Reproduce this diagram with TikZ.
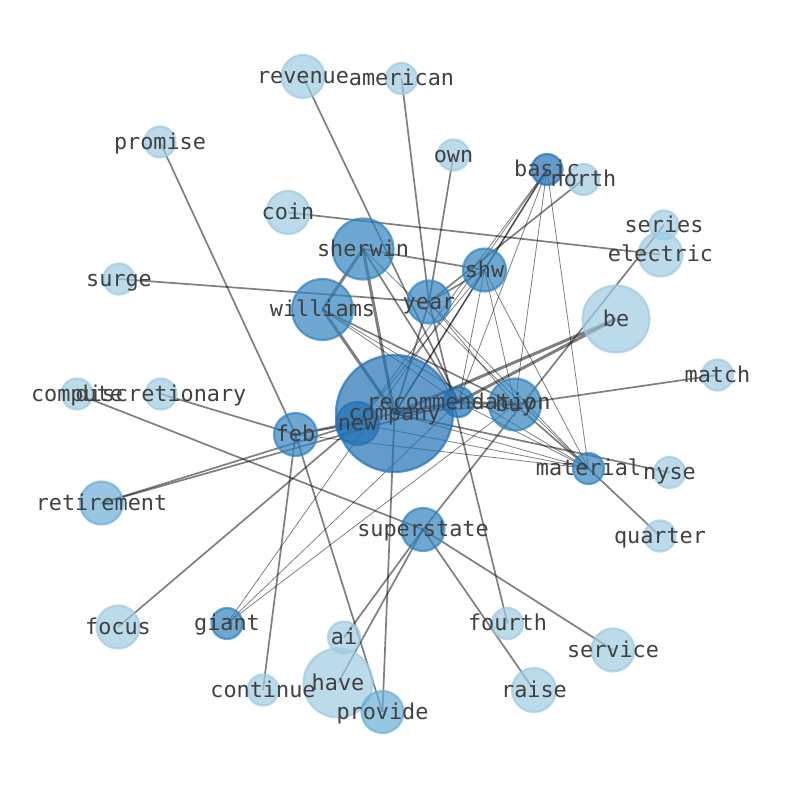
\documentclass[tikz,border=0pt]{standalone}
\usepackage{fontspec}
\setmonofont{DejaVu Sans Mono}
\pgfdeclarelayer{edges}
\pgfdeclarelayer{labels}
\pgfsetlayers{edges,main,labels}
\definecolor{bluelight}{HTML}{9ECAE1}
\definecolor{bluemid}{HTML}{6BAED6}
\definecolor{bluemed}{HTML}{3182BD}
\definecolor{bluedark}{HTML}{2171B5}
\tikzset{
  blob/.style={circle,inner sep=0pt,line width=2.2bp,opacity=0.7},
  lt/.style={blob,fill=bluelight,draw=bluelight},
  lm/.style={blob,fill=bluemid,draw=bluemid},
  md/.style={blob,fill=bluemed,draw=bluemed},
  dk/.style={blob,fill=bluedark,draw=bluedark},
  word/.style={inner sep=0pt,yshift=-5bp,text=black!75,font=\ttfamily\fontsize{21.9}{26}\selectfont,text height=0.74em,text depth=0.24em},
  link/.style={draw=black,draw opacity=0.5,line width=1.7bp},
  thinlink/.style={link,line width=0.8bp},
  thicklink/.style={link,line width=3bp},
}
\begin{document}
\begin{tikzpicture}[line join=bevel]
\useasboundingbox (0bp,0bp) rectangle (794bp,790bp);
%%
\node (company) at (394.5bp,376.5bp) [dk,minimum size=117bp] {};
\node (revenue) at (303bp,713.5bp) [lt,minimum size=43bp] {};
\node (american) at (401.5bp,711.5bp) [lt,minimum size=31bp] {};
\node (promise) at (160bp,648bp) [lt,minimum size=31bp] {};
\node (own) at (453.5bp,635bp) [lt,minimum size=31bp] {};
\node (basic) at (547bp,620.5bp) [dk,minimum size=31bp] {};
\node (north) at (583.5bp,610.5bp) [lt,minimum size=31bp] {};
\node (coin) at (288bp,577.5bp) [lt,minimum size=43bp] {};
\node (series) at (664bp,565bp) [lt,minimum size=29bp] {};
\node (electric) at (660.5bp,535.5bp) [lt,minimum size=44bp] {};
\node (sherwin) at (363bp,541bp) [md,minimum size=61bp] {};
\node (shw) at (484.5bp,520bp) [md,minimum size=43bp] {};
\node (surge) at (119bp,511bp) [lt,minimum size=31bp] {};
\node (williams) at (322.5bp,480.5bp) [md,minimum size=61bp] {};
\node (year) at (429bp,488bp) [md,minimum size=43bp] {};
\node (be) at (616bp,471bp) [lt,minimum size=67bp] {};
\node (match) at (717.5bp,415bp) [lt,minimum size=31bp] {};
\node (compute) at (77bp,396bp) [lt,minimum size=31bp] {};
\node (discretionary) at (161bp,396bp) [lt,minimum size=31bp] {};
\node (buy) at (515bp,385.5bp) [md,minimum size=52bp] {};
\node (recommendation) at (458.5bp,388bp) [dk,minimum size=30bp] {};
\node (new) at (357.5bp,366.5bp) [dk,minimum size=43bp] {};
\node (feb) at (295.5bp,355.5bp) [md,minimum size=43bp] {};
\node (material) at (588.5bp,321.5bp) [md,minimum size=31bp] {};
\node (nyse) at (669.5bp,317.5bp) [lt,minimum size=31bp] {};
\node (retirement) at (101.5bp,287bp) [lm,minimum size=43bp] {};
\node (superstate) at (423bp,260.5bp) [md,minimum size=43bp] {};
\node (quarter) at (660bp,254bp) [lt,minimum size=31bp] {};
\node (fourth) at (507.5bp,166.5bp) [lt,minimum size=31bp] {};
\node (focus) at (118bp,163bp) [lt,minimum size=43bp] {};
\node (giant) at (227bp,166.5bp) [md,minimum size=31bp] {};
\node (ai) at (344bp,152.5bp) [lt,minimum size=32bp] {};
\node (service) at (613bp,140bp) [lt,minimum size=43bp] {};
\node (have) at (338bp,107bp) [lt,minimum size=69bp] {};
\node (continue) at (263bp,100bp) [lt,minimum size=31bp] {};
\node (raise) at (534bp,100bp) [lt,minimum size=44bp] {};
\node (provide) at (382.5bp,78bp) [lm,minimum size=42bp] {};
%
\begin{pgfonlayer}{edges}
\draw [thicklink] (sherwin.center) -- (williams.center);
\draw [thicklink] (sherwin.center) -- (company.center);
\draw [thicklink] (williams.center) -- (company.center);
\draw [thicklink] (be.center) -- (recommendation.center);
\draw [thicklink] (be.center) -- (company.center);
\draw [thicklink] (company.center) -- (recommendation.center);
\draw [thicklink] (recommendation.center) -- (buy.center);
\draw [link] (revenue.center) -- (recommendation.center);
\draw [link] (american.center) -- (year.center);
\draw [link] (own.center) -- (year.center);
\draw [link] (promise.center) -- (feb.center);
\draw [link] (north.center) -- (year.center);
\draw [link] (coin.center) -- (electric.center);
\draw [link] (series.center) -- (superstate.center);
\draw [link] (surge.center) -- (year.center);
\draw [link] (match.center) -- (buy.center);
\draw [link] (company.center) -- (nyse.center);
\draw [link] (material.center) -- (quarter.center);
\draw [link] (discretionary.center) -- (feb.center);
\draw [link] (compute.center) -- (superstate.center);
\draw [link] (retirement.center) -- (new.center);
\draw [link] (retirement.center) -- (recommendation.center);
\draw [link] (feb.center) -- (new.center);
\draw [link] (feb.center) -- (company.center);
\draw [link] (feb.center) -- (continue.center);
\draw [link] (feb.center) -- (provide.center);
\draw [link] (focus.center) -- (new.center);
\draw [link] (ai.center) -- (superstate.center);
\draw [link] (have.center) -- (superstate.center);
\draw [link] (superstate.center) -- (raise.center);
\draw [link] (superstate.center) -- (service.center);
\draw [link] (year.center) -- (fourth.center);
\draw [link] (provide.center) -- (company.center);
\draw [link] (sherwin.center) -- (shw.center);
\draw [link] (shw.center) -- (year.center);
\draw [link] (shw.center) -- (company.center);
\draw [link] (shw.center) -- (basic.center);
\draw [link] (year.center) -- (company.center);
\draw [link] (sherwin.center) -- (recommendation.center);
\draw [link] (material.center) -- (buy.center);
\draw [link] (company.center) -- (buy.center);
\draw [link] (williams.center) -- (buy.center);
\draw [thinlink] (giant.center) -- (basic.center);
\draw [thinlink] (giant.center) -- (recommendation.center);
\draw [thinlink] (giant.center) -- (buy.center);
\draw [thinlink] (basic.center) -- (company.center);
\draw [thinlink] (basic.center) -- (new.center);
\draw [thinlink] (basic.center) -- (recommendation.center);
\draw [thinlink] (basic.center) -- (buy.center);
\draw [thinlink] (basic.center) -- (material.center);
\draw [thinlink] (material.center) -- (shw.center);
\draw [thinlink] (material.center) -- (year.center);
\draw [thinlink] (material.center) -- (sherwin.center);
\draw [thinlink] (material.center) -- (williams.center);
\draw [thinlink] (material.center) -- (company.center);
\draw [thinlink] (material.center) -- (recommendation.center);
\draw [thinlink] (material.center) -- (new.center);
\draw [thinlink] (shw.center) -- (recommendation.center);
\draw [thinlink] (shw.center) -- (buy.center);
\draw [thinlink] (shw.center) -- (new.center);
\draw [thinlink] (year.center) -- (buy.center);
\draw [thinlink] (williams.center) -- (recommendation.center);
\draw [thinlink] (feb.center) -- (material.center);
\end{pgfonlayer}
%
\begin{pgfonlayer}{labels}
\node (t_revenue) at (revenue) [word] {revenue};
\node (t_american) at (american) [word] {american};
\node (t_promise) at (promise) [word] {promise};
\node (t_own) at (own) [word] {own};
\node (t_basic) at (basic) [word] {basic};
\node (t_north) at (north) [word] {north};
\node (t_coin) at (coin) [word] {coin};
\node (t_series) at (series) [word] {series};
\node (t_electric) at (electric) [word] {electric};
\node (t_sherwin) at (sherwin) [word] {sherwin};
\node (t_shw) at (shw) [word] {shw};
\node (t_surge) at (surge) [word] {surge};
\node (t_williams) at (williams) [word] {williams};
\node (t_year) at (year) [word] {year};
\node (t_be) at (be) [word] {be};
\node (t_match) at (match) [word] {match};
\node (t_compute) at (compute) [word] {compute};
\node (t_discretionary) at (discretionary) [word] {discretionary};
\node (t_company) at (company) [word] {company};
\node (t_recommendation) at (recommendation) [word] {recommendation};
\node (t_buy) at (buy) [word] {buy};
\node (t_new) at (new) [word] {new};
\node (t_feb) at (feb) [word] {feb};
\node (t_material) at (material) [word] {material};
\node (t_nyse) at (nyse) [word] {nyse};
\node (t_retirement) at (retirement) [word] {retirement};
\node (t_superstate) at (superstate) [word] {superstate};
\node (t_quarter) at (quarter) [word] {quarter};
\node (t_fourth) at (fourth) [word] {fourth};
\node (t_focus) at (focus) [word] {focus};
\node (t_giant) at (giant) [word] {giant};
\node (t_ai) at (ai) [word] {ai};
\node (t_service) at (service) [word] {service};
\node (t_have) at (have) [word] {have};
\node (t_continue) at (continue) [word] {continue};
\node (t_raise) at (raise) [word] {raise};
\node (t_provide) at (provide) [word] {provide};
\end{pgfonlayer}
%
\end{tikzpicture}
\end{document}
